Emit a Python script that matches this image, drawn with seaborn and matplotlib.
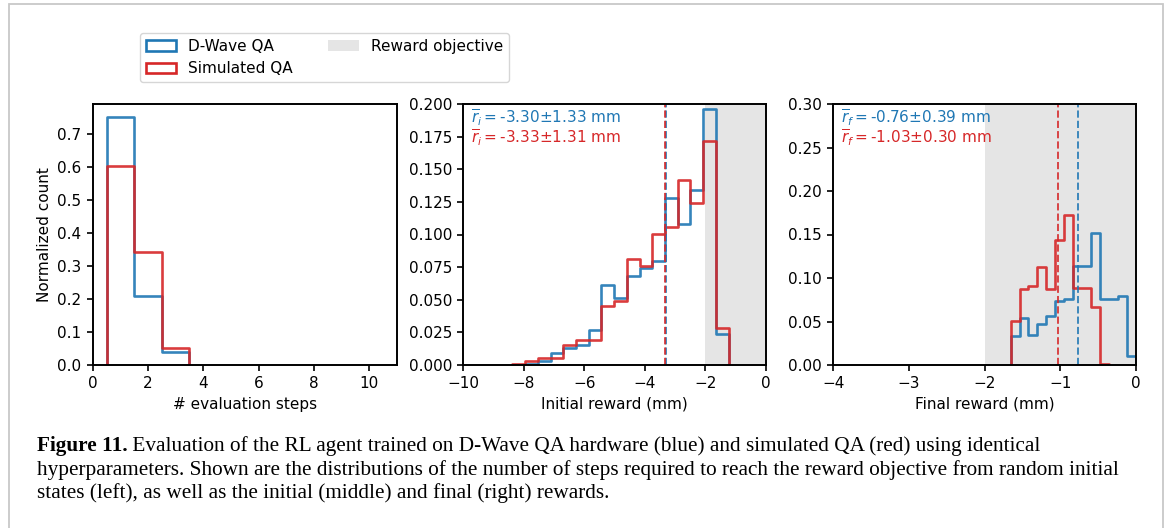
import numpy as np
import matplotlib
matplotlib.use("Agg")
import matplotlib.pyplot as plt
import seaborn as sns
from matplotlib.patches import Patch, Rectangle

# ---------------- data ----------------
series = ["D-Wave QA", "Simulated QA"]
series_colors = ["#1f77b4", "#d62728"]
objective_label = "Reward objective"

# number of evaluation steps
steps_edges = [0.5, 1.5, 2.5, 3.5]
steps_dwave = [0.754, 0.210, 0.038]
steps_sim = [0.605, 0.343, 0.052]

# initial reward (mm)
initial_edges = np.linspace(-8.371, -1.237, 18)
initial_dwave = [0.000, 0.001, 0.003, 0.009, 0.013, 0.015, 0.027, 0.061, 0.051,
                 0.068, 0.074, 0.080, 0.128, 0.108, 0.134, 0.196, 0.024]
initial_sim = [0.001, 0.003, 0.005, 0.005, 0.015, 0.019, 0.019, 0.045, 0.049,
               0.081, 0.076, 0.100, 0.106, 0.142, 0.124, 0.172, 0.028]
initial_means = [-3.30, -3.33]
initial_stds = [1.33, 1.31]

# final reward (mm)
final_edges = np.linspace(-1.655, 0.0, 15)
final_dwave = [0.033, 0.054, 0.035, 0.047, 0.056, 0.074, 0.076, 0.114, 0.114,
               0.152, 0.076, 0.076, 0.079, 0.010]
final_sim = [0.051, 0.087, 0.091, 0.113, 0.087, 0.144, 0.172, 0.089, 0.089,
             0.067, 0.001]
final_means = [-0.76, -1.03]
final_stds = [0.39, 0.30]

objective_range = [-2.0, 0.0]

caption_bold = "Figure 11."
caption_lines = [
    " Evaluation of the RL agent trained on D-Wave QA hardware (blue) and simulated QA (red) using identical",
    "hyperparameters. Shown are the distributions of the number of steps required to reach the reward objective from random initial",
    "states (left), as well as the initial (middle) and final (right) rewards.",
]

# ---------------- style ----------------
sns.set_style("ticks")
plt.rcParams["font.family"] = ["DejaVu Sans"]
plt.rcParams.update({
    "axes.edgecolor": "black",
    "axes.linewidth": 1.4,
    "xtick.major.width": 1.2,
    "ytick.major.width": 1.2,
    "xtick.major.size": 4.5,
    "ytick.major.size": 4.5,
    "xtick.color": "black",
    "ytick.color": "black",
    "xtick.labelsize": 11,
    "ytick.labelsize": 11,
    "axes.labelsize": 11,
    "text.color": "black",
    "axes.labelcolor": "black",
})

W, H = 1168, 528
fig = plt.figure(figsize=(W / 100, H / 100), dpi=100)
fig.patch.set_facecolor("white")


def px_axes(x0, y0, x1, y1):
    return fig.add_axes([x0 / W, 1 - y1 / H, (x1 - x0) / W, (y1 - y0) / H])


ax1 = px_axes(92.7, 104, 396.7, 365)
ax2 = px_axes(463, 104, 766, 365)
ax3 = px_axes(833.3, 104, 1135.7, 365)


def step_hist(ax, edges, values, color):
    edges = np.asarray(edges, dtype=float)[: len(values) + 1]
    centers = (edges[:-1] + edges[1:]) / 2
    padded = [float(edges[0])] + [float(e) for e in edges] + [float(edges[-1])]
    sns.histplot(x=list(centers), weights=list(values), bins=padded, element="step",
                 fill=False, color=color, linewidth=1.9, alpha=0.9, ax=ax)


# left panel
step_hist(ax1, steps_edges, steps_dwave, series_colors[0])
step_hist(ax1, steps_edges, steps_sim, series_colors[1])
ax1.set_xlim(0, 11)
ax1.set_ylim(0, 0.792)
ax1.set_xticks([0, 2, 4, 6, 8, 10])
ax1.set_yticks(np.arange(0, 0.71, 0.1))
ax1.set_xlabel("# evaluation steps")
ax1.set_ylabel("Normalized count")

# middle panel
ax2.axvspan(*objective_range, color="gray", alpha=0.2, lw=0)
step_hist(ax2, initial_edges, initial_dwave, series_colors[0])
step_hist(ax2, initial_edges, initial_sim, series_colors[1])
for m, c in zip(initial_means, series_colors):
    ax2.axvline(m, color=c, ls="--", lw=1.4, alpha=0.85)
ax2.set_xlim(-10, 0)
ax2.set_ylim(0, 0.2)
ax2.set_xticks([-10, -8, -6, -4, -2, 0])
ax2.set_yticks(np.arange(0, 0.2001, 0.025))
ax2.yaxis.set_major_formatter(matplotlib.ticker.FormatStrFormatter("%.3f"))
ax2.set_xlabel("Initial reward (mm)")
ax2.set_ylabel("")
for i, (m, s, c) in enumerate(zip(initial_means, initial_stds, series_colors)):
    ax2.text(0.025, 0.946 - i * 0.077, r"$\overline{r}_i=$" + f"{m:.2f}±{s:.2f} mm",
             color=c, transform=ax2.transAxes, va="center", ha="left", fontsize=11)

# right panel
ax3.axvspan(*objective_range, color="gray", alpha=0.2, lw=0)
step_hist(ax3, final_edges, final_dwave, series_colors[0])
step_hist(ax3, final_edges, final_sim, series_colors[1])
for m, c in zip(final_means, series_colors):
    ax3.axvline(m, color=c, ls="--", lw=1.4, alpha=0.85)
ax3.set_xlim(-4, 0)
ax3.set_ylim(0, 0.3)
ax3.set_xticks([-4, -3, -2, -1, 0])
ax3.set_yticks(np.arange(0, 0.3001, 0.05))
ax3.yaxis.set_major_formatter(matplotlib.ticker.FormatStrFormatter("%.2f"))
ax3.set_xlabel("Final reward (mm)")
ax3.set_ylabel("")
for i, (m, s, c) in enumerate(zip(final_means, final_stds, series_colors)):
    ax3.text(0.025, 0.946 - i * 0.077, r"$\overline{r}_f=$" + f"{m:.2f}±{s:.2f} mm",
             color=c, transform=ax3.transAxes, va="center", ha="left", fontsize=11)

for ax in (ax1, ax2, ax3):
    for sp in ax.spines.values():
        sp.set_visible(True)
        sp.set_color("black")

# legend
handles = [
    Patch(facecolor="none", edgecolor=series_colors[0], linewidth=1.9, label=series[0]),
    Patch(facecolor="none", edgecolor=series_colors[1], linewidth=1.9, label=series[1]),
    Patch(facecolor="gray", alpha=0.2, edgecolor="none", label=objective_label),
]
fig.legend(handles=handles, ncol=2, loc="upper left",
           bbox_to_anchor=(139.5 / W, 1 - 32.5 / H), borderaxespad=0,
           fontsize=11, frameon=True, columnspacing=2.3, handlelength=2.0)

# caption
renderer = fig.canvas.get_renderer()
serif = ["Liberation Serif", "DejaVu Serif"]
base_fs = 15
probe = fig.text(0, 0, caption_lines[1], fontsize=base_fs, family=serif)
wpx = probe.get_window_extent(renderer).width
probe.remove()
fs = base_fs * 1090.0 / wpx

x0 = 36.7
baselines = [451.5, 474.8, 498.1]
tb = fig.text(x0 / W, 1 - baselines[0] / H, caption_bold, fontsize=fs,
              family=serif, weight="bold", va="baseline", ha="left")
bw = tb.get_window_extent(renderer).width
fig.text((x0 + bw) / W, 1 - baselines[0] / H, caption_lines[0], fontsize=fs,
         family=serif, va="baseline", ha="left")
for line, yb in zip(caption_lines[1:], baselines[1:]):
    fig.text(x0 / W, 1 - yb / H, line, fontsize=fs, family=serif,
             va="baseline", ha="left")

# page frame
fig.add_artist(Rectangle((8.5 / W, -0.1), (1163 - 8.5) / W, 1.1 - 4.5 / H,
                         transform=fig.transFigure, fill=False,
                         edgecolor="#c8c8c8", linewidth=1.3))

fig.savefig("out.png", dpi=100, facecolor="white")
